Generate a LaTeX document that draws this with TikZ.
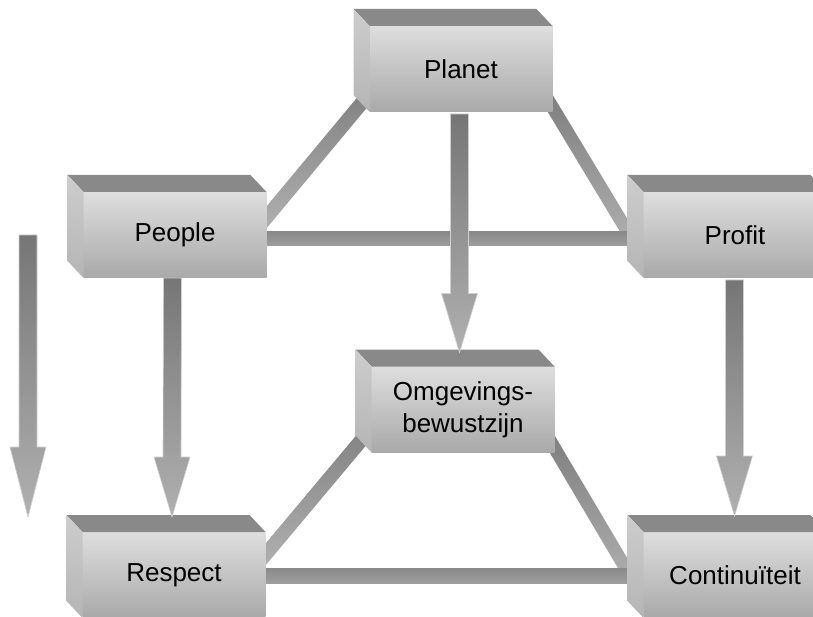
\documentclass[tikz,border=0pt]{standalone}
\usepackage{fontspec}
\setmainfont{Liberation Sans}
\usetikzlibrary{calc}
\pgfdeclarelayer{bg}
\pgfsetlayers{bg,main}
\definecolor{topface}{HTML}{898989}
\definecolor{sideTop}{HTML}{CDCDCD}
\definecolor{sideBot}{HTML}{B5B5B5}
\definecolor{frontTop}{HTML}{DEDEDE}
\definecolor{frontBot}{HTML}{A9A9A9}
\definecolor{barTop}{HTML}{7E7E7E}
\definecolor{barBot}{HTML}{B0B0B0}
\definecolor{hbarTop}{HTML}{8A8A8A}
\definecolor{hbarMid}{HTML}{B6B6B6}
\definecolor{hbarBot}{HTML}{9E9E9E}
\definecolor{arrTop}{HTML}{767676}
\definecolor{arrBot}{HTML}{B0B0B0}
\definecolor{arrEdge}{HTML}{D0D0D0}
\tikzset{
  frontface/.style={rectangle, minimum width=183pt, minimum height=86pt,
    inner sep=0pt, outer sep=0pt, top color=frontTop, bottom color=frontBot,
    font=\fontsize{26}{32}\selectfont, align=center, text=black},
  topfill/.style={fill=topface},
  sidefill/.style={top color=sideTop, bottom color=sideBot},
  dbarshade/.style={top color=barTop, bottom color=barBot},
  hbarshade/.style={top color=hbarTop, middle color=hbarMid, bottom color=hbarBot},
  arrowshade/.style={top color=arrTop, bottom color=arrBot, draw=arrEdge, line width=0.6pt}
}
\newcommand\threebox[3]{%
  \node[frontface] (#1) at (#2) {#3};
  \fill[topfill] (#1.north west) -- ++(-16,-17) -- ([xshift=-16pt,yshift=17pt]#1.north east) -- (#1.north east) -- cycle;
  \shade[sidefill] (#1.north west) -- ++(-16,-17) -- ([xshift=-16pt,yshift=17pt]#1.south west) -- (#1.south west) -- cycle;
}
\newcommand\connbar[4]{% start, end, half width, style
  \shade[#4] ($(#1)!#3!90:(#2)$) -- ($(#1)!#3!-90:(#2)$) -- ($(#2)!#3!90:(#1)$) -- ($(#2)!#3!-90:(#1)$) -- cycle;
}
\newcommand\blockarrow[3]{% start (top centre), tip, head length
  \shade[arrowshade] ($(#1)+(-9,0)$) -- ($(#1)+(9,0)$) -- ($(#2)+(9,-#3)$) -- ($(#2)+(18,-#3)$) -- (#2)
    -- ($(#2)+(-18,-#3)$) -- ($(#2)+(-9,-#3)$) -- cycle;
}
\begin{document}
\begin{tikzpicture}[x=1pt,y=-1pt]
\useasboundingbox (0,0) rectangle (813,617);
\clip (0,0) rectangle (813,617);
% boxes
\threebox{planet}{461,69}{Planet}
\threebox{people}{175,235}{People}
\threebox{profit}{735,235}{Profit}
\threebox{omg}{463,409.5}{Omgevings-\\bewustzijn}
\threebox{respect}{174,575}{Respect}
\threebox{cont}{735,575}{Continuïteit}
% connector end points
\coordinate (d1a) at ($(planet.south west)+(8,-28)$);
\coordinate (d1b) at ($(people.north east)+(-8,35)$);
\coordinate (d2a) at ($(planet.south east)+(-8,-18)$);
\coordinate (d2b) at ($(profit.north west)+(-8.5,52)$);
\coordinate (d3a) at ($(omg.south west)+(8,-34)$);
\coordinate (d3b) at ($(respect.north east)+(-8,32)$);
\coordinate (d4a) at ($(omg.south east)+(-8,-18)$);
\coordinate (d4b) at ($(cont.north west)+(-8.5,52)$);
\coordinate (h1a) at ($(people.east)+(-10,4)$);
\coordinate (h1b) at ($(profit.west)+(10,4)$);
\coordinate (h2a) at ($(respect.east)+(-10,0.5)$);
\coordinate (h2b) at ($(cont.west)+(10,0.5)$);
\begin{pgfonlayer}{bg}
\connbar{d1a}{d1b}{7pt}{dbarshade}
\connbar{d2a}{d2b}{6.5pt}{dbarshade}
\connbar{d3a}{d3b}{7pt}{dbarshade}
\connbar{d4a}{d4b}{6.5pt}{dbarshade}
\connbar{h1a}{h1b}{7pt}{hbarshade}
\connbar{h2a}{h2b}{7.5pt}{hbarshade}
\end{pgfonlayer}
% arrows
\coordinate (a1s) at ($(planet.south)+(-1.5,2)$);
\coordinate (a1t) at ($(omg.north)+(-3.5,-14)$);
\coordinate (a2s) at ($(people.south)+(-2.5,0)$);
\coordinate (a2t) at ($(respect.north)+(-2,-15)$);
\coordinate (a3s) at ($(profit.south)+(-0.5,2)$);
\coordinate (a3t) at ($(cont.north)+(-0.5,-16)$);
\coordinate (a0s) at (28,235);
\coordinate (a0t) at (28,517);
\blockarrow{a1s}{a1t}{59}
\blockarrow{a2s}{a2t}{60}
\blockarrow{a3s}{a3t}{60}
\blockarrow{a0s}{a0t}{70}
\end{tikzpicture}
\end{document}
